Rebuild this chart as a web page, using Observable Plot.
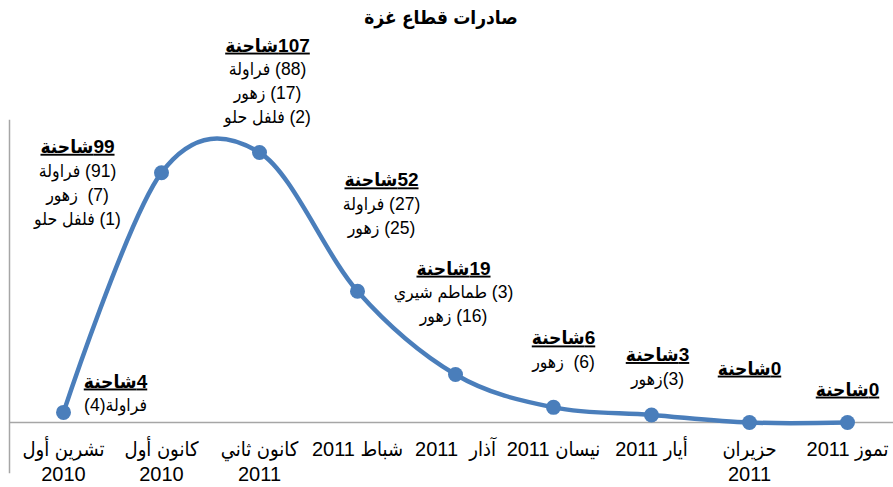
<!DOCTYPE html>
<html><head><meta charset="utf-8">
<script src="https://cdn.jsdelivr.net/npm/d3@7"></script>
<script src="https://cdn.jsdelivr.net/npm/@observablehq/plot@0.6"></script>
<style>
body{margin:0;background:#fff;font-family:"Liberation Sans","DejaVu Sans Condensed","DejaVu Sans",sans-serif;}
#title{height:36px;line-height:36px;text-align:center;font-weight:bold;font-size:19px;padding-right:11px;direction:rtl;color:#000;}
svg text{direction:rtl;white-space:pre;}
g[font-weight="bold"] text{text-decoration:underline;text-decoration-thickness:2px;}
</style></head><body>
<div id="title">صادرات قطاع غزة</div>
<div id="chart"></div>
<script>
// ---- data ----
const months = ["تشرين أول\n2010","كانون أول\n2010","كانون ثاني\n2011","شباط 2011","آذار  2011","نيسان 2011","أيار 2011","حزيران\n2011","تموز 2011"];
const trucks = [4, 99, 107, 52, 19, 6, 3, 0, 0];
const truckWord = "شاحنة";
const details = [
  ["فراولة(4)"],
  ["(91) فراولة","(7)  زهور","(1) فلفل حلو"],
  ["(88) فراولة","(17) زهور","(2) فلفل حلو"],
  ["(27) فراولة","(25) زهور"],
  ["(3) طماطم شيري","(16) زهور"],
  ["(6)  زهور"],
  ["(3)زهور"],
  [],
  []
];
// ---- label layout (pixel offsets of each header from its point) ----
const labelDx = [52,-84,8,24,-2,10,6,0,0];
const labelDy = [-31,-26,-107,-111,-106,-69,-60,-54,-33];

const rtl = s => s.split("\n").map(l => "\u202B" + l + "\u202C").join("\n");
const data = months.map((m,i)=>({m, v: trucks[i], i}));
const blue = "#4a7ebb";
const FF = "'Liberation Sans','DejaVu Sans Condensed','DejaVu Sans',sans-serif";
const hdrSize = 19, detSize = 17.5;

const labelMarks = [];
data.forEach((d,i)=>{
  labelMarks.push(Plot.text([d], {x:"m", y:"v", text: d => rtl(d.v + truckWord),
    dx: labelDx[i], dy: labelDy[i], fontWeight:"bold", fontSize: hdrSize, fill:"#000", lineAnchor:"middle"}));
  if (details[i].length) {
    labelMarks.push(Plot.text([d], {x:"m", y:"v", text: () => rtl(details[i].join("\n")),
      dx: labelDx[i], dy: labelDy[i] + 19 - detSize*0.35, fontSize: detSize, lineHeight: 24/detSize,
      fill:"#000", lineAnchor:"top"}));
  }
});

const plot = Plot.plot({
  width: 893, height: 451,
  marginTop: 84, marginBottom: 15, marginLeft: 9, marginRight: 0,
  x: {type:"point", domain: months, range:[60, 849], padding: 0, axis: null},
  y: {domain:[0,107], range:[386,116], axis: null},
  style: {fontFamily: FF, background:"white", overflow:"visible", color:"#000"},
  marks: [
    Plot.frame({anchor:"left", stroke:"#a6a6a6", strokeWidth:1.5}),
    Plot.ruleY([0], {stroke:"#a6a6a6", strokeWidth:1.5}),
    Plot.line(data, {x:"m", y:"v", curve:"cardinal", stroke: blue, strokeWidth:4.5}),
    Plot.dot(data, {x:"m", y:"v", r:7.5, fill: blue}),
    Plot.text(data, {x:"m", y:0, text: d => rtl(d.m), lineAnchor:"top", dy:16, fontSize:20, lineHeight:25/20, fill:"#000"}),
    ...labelMarks
  ]
});
document.getElementById("chart").appendChild(plot);
</script>
</body></html>
